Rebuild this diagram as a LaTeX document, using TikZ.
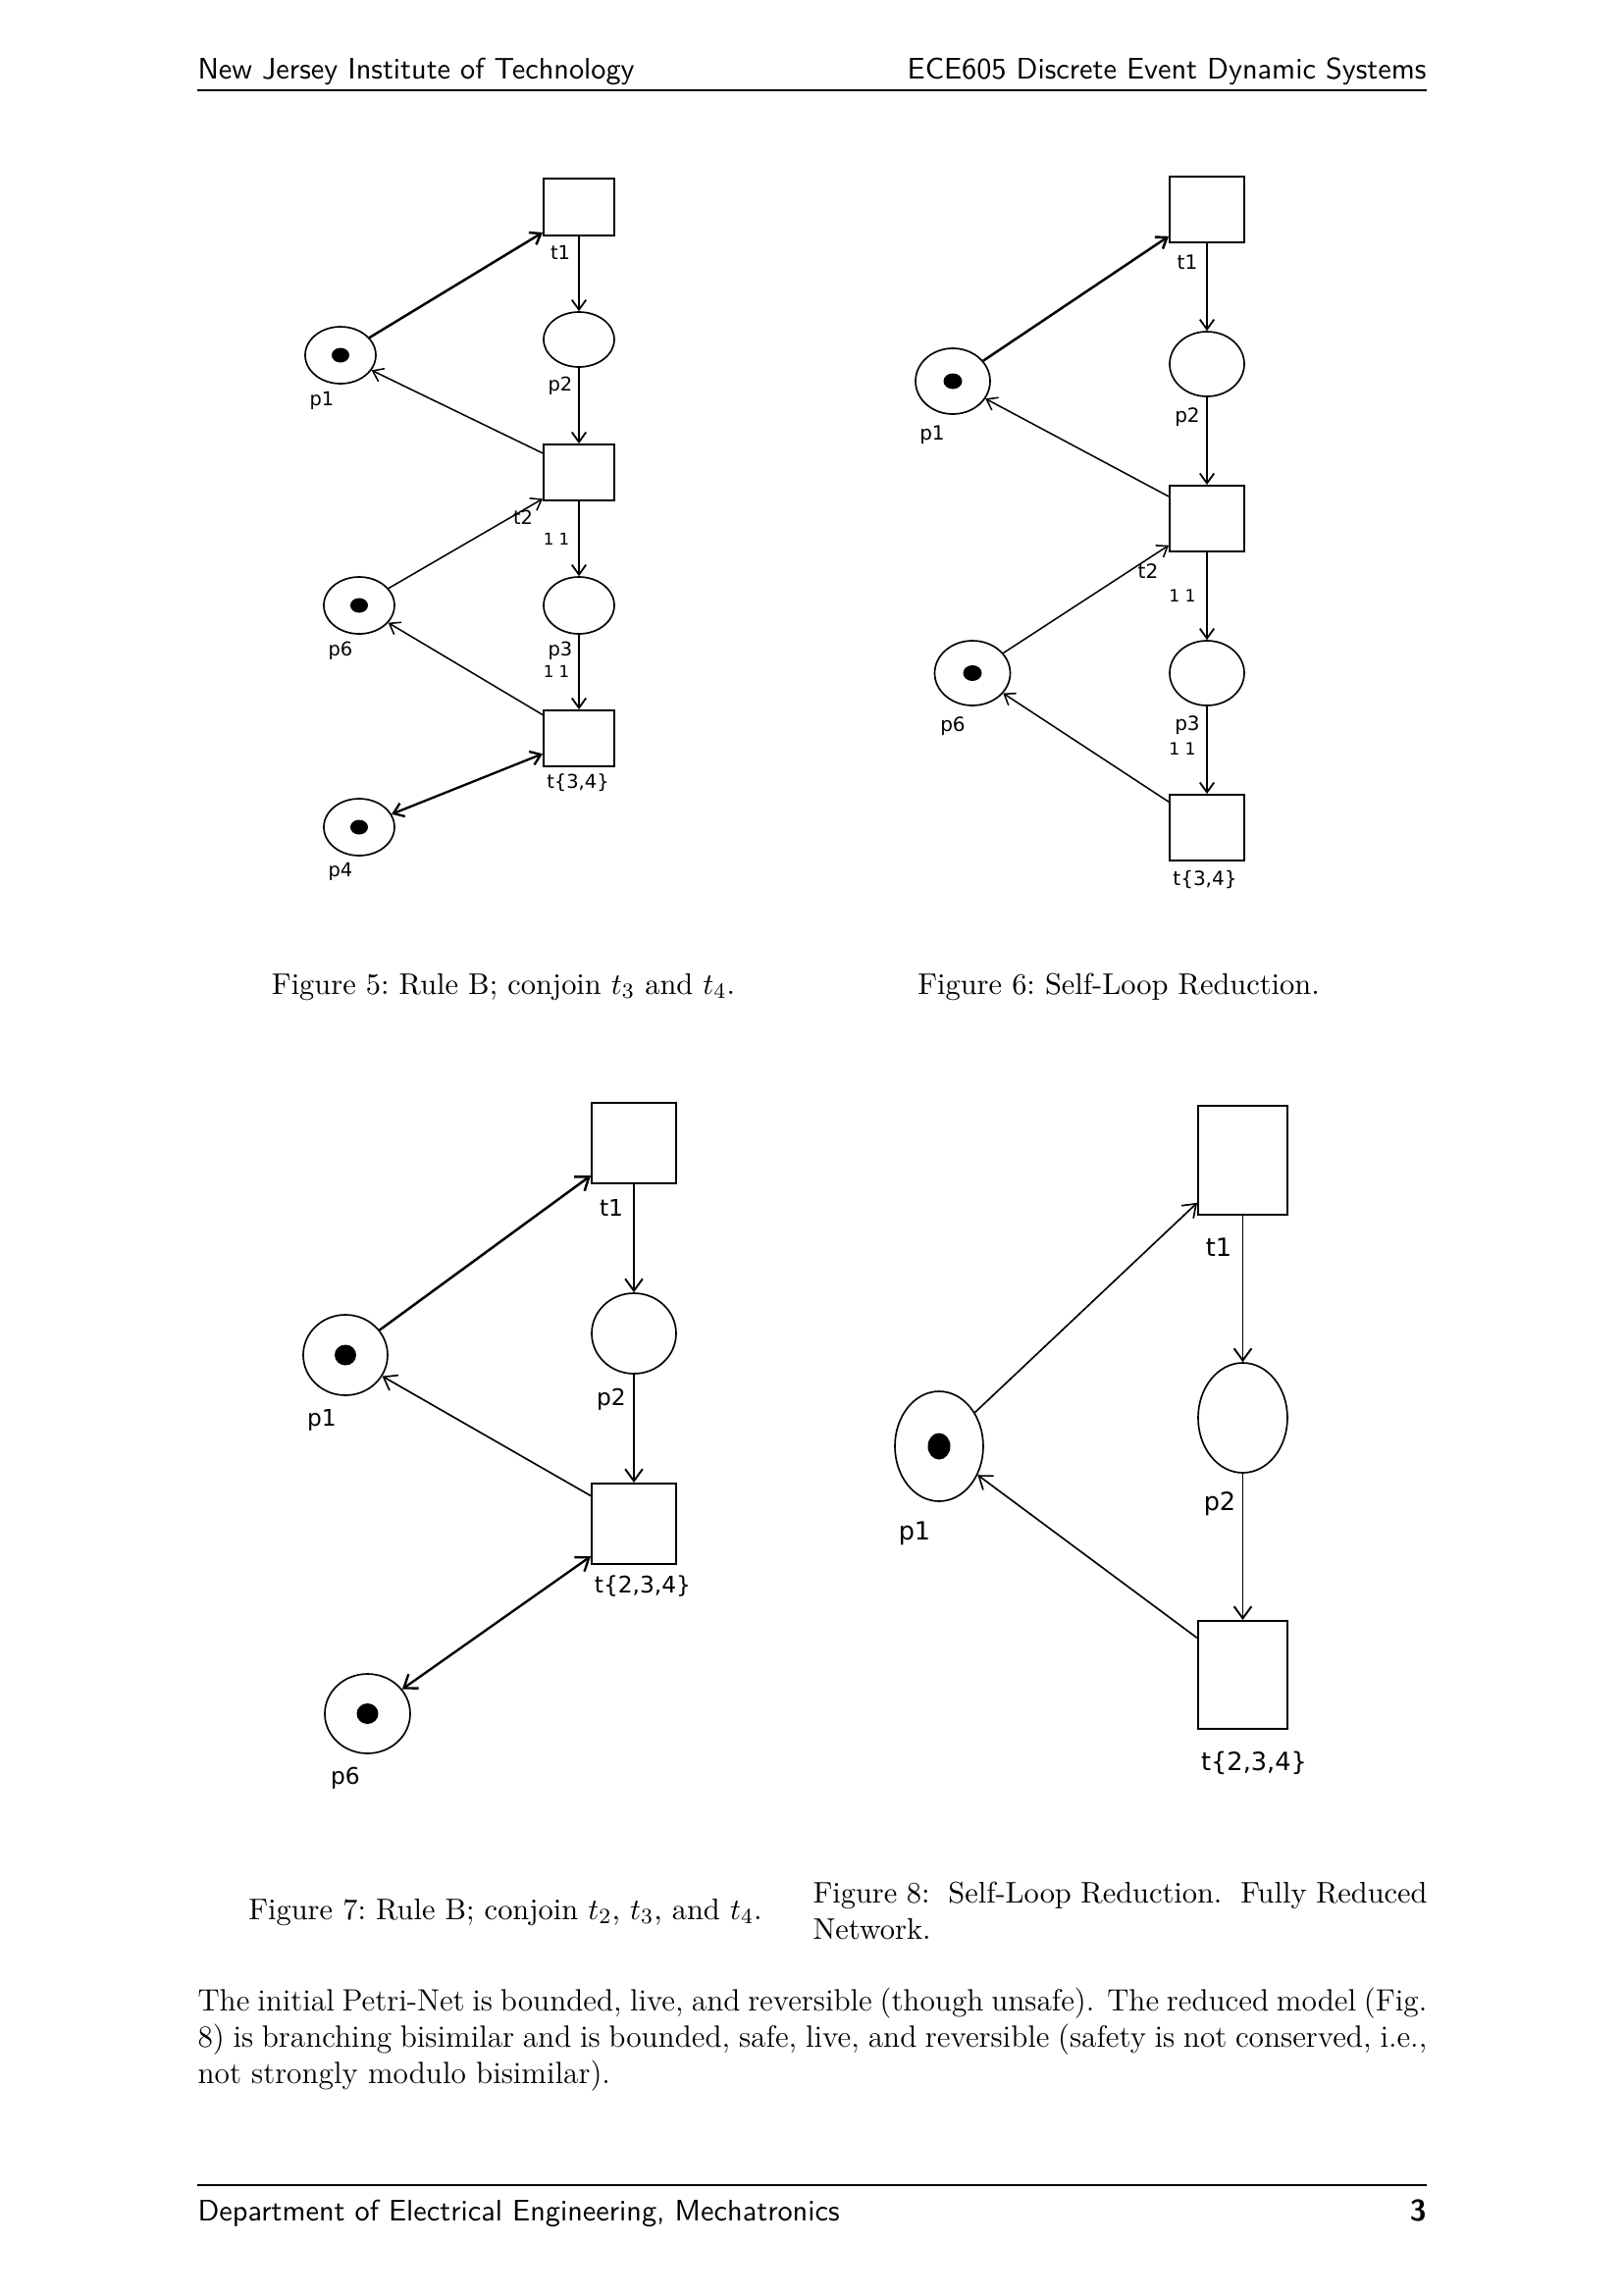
\documentclass[tikz,border=0pt]{standalone}
\usepackage{fontspec}
\usetikzlibrary{arrows.meta,shapes.geometric}
\newfontfamily\netfont{DejaVu Sans}
\begin{document}
\begin{tikzpicture}[x=0.36pt,y=-0.36pt,
  sz/.style 2 args={minimum width=#1*0.36pt, minimum height=#2*0.36pt},
  place/.style={draw, ellipse, inner sep=0pt, line width=0.6pt},
  trans/.style={draw, rectangle, inner sep=0pt, line width=0.7pt},
  token/.style={fill=black, ellipse, inner sep=0pt},
  netarc/.style={-{Straight Barb[length=3.6pt,width=5.2pt]}, line width=0.65pt},
  backarc/.style={netarc, line width=0.55pt},
  bignetarc/.style={-{Straight Barb[length=4.4pt,width=6.4pt]}, line width=0.7pt},
  bigbackarc/.style={bignetarc, line width=0.6pt},
  heavyarc/.style={netarc, line width=0.9pt},
  twoway/.style={{Straight Barb[length=3.6pt,width=5.2pt]}-{Straight Barb[length=3.6pt,width=5.2pt]}, line width=0.85pt},
  bigtwoway/.style={{Straight Barb[length=4.4pt,width=6.4pt]}-{Straight Barb[length=4.4pt,width=6.4pt]}, line width=0.85pt},
  lbl/.style={inner sep=0pt, font=\netfont\fontsize{#1}{#1}\selectfont},
  lbl/.default=7,
  pagetext/.style={inner sep=0pt, font=\sffamily\fontsize{10.9}{13}\selectfont},
  figcap/.style={inner sep=0pt, font=\fontsize{10.95}{13.6}\selectfont\frenchspacing},
  bodytext/.style={inner sep=0pt, font=\fontsize{11.3}{13.6}\selectfont},
]
\useasboundingbox (0,0) rectangle (1654,2339);

% running head and foot
\node[pagetext, anchor=base west] (headL) at (201,80) {New Jersey Institute of Technology};
\node[pagetext, anchor=base east] (headR) at (1454,80) {ECE605 Discrete Event Dynamic Systems};
\coordinate (hruleL) at (201,92);
\coordinate (hruleR) at (1454,92);
\draw[line width=0.4pt] (hruleL) -- (hruleR);
\coordinate (fruleL) at (201,2227);
\coordinate (fruleR) at (1454,2227);
\draw[line width=0.4pt] (fruleL) -- (fruleR);
\node[pagetext, anchor=base west] (footL) at (201,2263) {Department of Electrical Engineering, Mechatronics};
\node[pagetext, anchor=base east, font=\sffamily\bfseries\fontsize{10.9}{13}\selectfont] (footR) at (1454,2263) {3};

% ---------- net: t3 and t4 conjoined ----------
\node[trans, sz={72}{58}] (a-t1) at (590,211) {};
\node[place, sz={72}{56}] (a-p2) at (590,346) {};
\node[place, sz={72}{58}] (a-p1) at (347,362) {};
\node[trans, sz={72}{57}] (a-t2) at (590,481.5) {};
\node[place, sz={72}{58}] (a-p6) at (366,617) {};
\node[place, sz={72}{58}] (a-p3) at (590,617) {};
\node[trans, sz={72}{57}] (a-t34) at (590,752.5) {};
\node[place, sz={72}{58}] (a-p4) at (366,843) {};
\node[token, sz={18}{15}] (a-k1) at (a-p1) {};
\node[token, sz={18}{15}] (a-k6) at (a-p6) {};
\node[token, sz={18}{15}] (a-k4) at (a-p4) {};
\draw[netarc] (a-t1) -- (a-p2);
\draw[netarc] (a-p2) -- (a-t2);
\draw[netarc] (a-t2) -- (a-p3);
\draw[netarc] (a-p3) -- (a-t34);
\draw[heavyarc] (a-p1) -- (a-t1.215);
\draw[backarc] (a-t2.152) -- (a-p1);
\draw[backarc] (a-p6) -- (a-t2.216);
\draw[backarc] (a-t34.147) -- (a-p6);
\draw[twoway] (a-p4) -- (a-t34.203);
\node[lbl] (a-lt1) at (571,257) {t1};
\node[lbl] (a-lp2) at (571,393) {p2};
\node[lbl] (a-lp1) at (328,408) {p1};
\node[lbl] (a-lt2) at (533,527) {t2};
\node[lbl=6] (a-w1) at (567,549) {1 1};
\node[lbl] (a-lp6) at (347,663) {p6};
\node[lbl] (a-lp3) at (571,663) {p3};
\node[lbl=6] (a-w2) at (567,684) {1 1};
\node[lbl] (a-lt34) at (589,798) {t\{3,4\}};
\node[lbl] (a-lp4) at (347,888) {p4};
\node[figcap, anchor=base] (capA) at (513,1013) {Figure 5: Rule B; conjoin $t_3$ and $t_4$.};

% ---------- net: self-loop reduction ----------
\node[trans, sz={76}{67}] (b-t1) at (1230,213.5) {};
\node[place, sz={76}{66}] (b-p2) at (1230,371) {};
\node[place, sz={76}{67}] (b-p1) at (971,388.5) {};
\node[trans, sz={76}{67}] (b-t2) at (1230,528.5) {};
\node[place, sz={77}{66}] (b-p6) at (991,686) {};
\node[place, sz={76}{66}] (b-p3) at (1230,686) {};
\node[trans, sz={76}{67}] (b-t34) at (1230,843.5) {};
\node[token, sz={19}{16}] (b-k1) at (b-p1) {};
\node[token, sz={19}{16}] (b-k6) at (b-p6) {};
\draw[netarc] (b-t1) -- (b-p2);
\draw[netarc] (b-p2) -- (b-t2);
\draw[netarc] (b-t2) -- (b-p3);
\draw[netarc] (b-p3) -- (b-t34);
\draw[heavyarc] (b-p1) -- (b-t1.215);
\draw[backarc] (b-t2.150) -- (b-p1);
\draw[backarc] (b-p6) -- (b-t2.215);
\draw[backarc] (b-t34.146.5) -- (b-p6);
\node[lbl=7.2] (b-lt1) at (1210,267) {t1};
\node[lbl=7.2] (b-lp2) at (1210,425) {p2};
\node[lbl=7.2] (b-lp1) at (950,443) {p1};
\node[lbl=7.2] (b-lt2) at (1170,582) {t2};
\node[lbl=6.2] (b-w1) at (1205,607) {1 1};
\node[lbl=7.2] (b-lp6) at (971,740) {p6};
\node[lbl=7.2] (b-lp3) at (1210,739) {p3};
\node[lbl=6.2] (b-w2) at (1205,763) {1 1};
\node[lbl=7.2] (b-lt34) at (1228,897) {t\{3,4\}};
\node[figcap, anchor=base] (capB) at (1140,1013) {Figure 6: Self-Loop Reduction.};

% ---------- net: t2, t3 and t4 conjoined ----------
\node[trans, sz={86}{82}] (c-t1) at (646,1165) {};
\node[place, sz={86}{82}] (c-p2) at (646,1359) {};
\node[place, sz={86}{82}] (c-p1) at (352,1381) {};
\node[trans, sz={86}{82}] (c-t234) at (646,1553) {};
\node[place, sz={87}{81}] (c-p6) at (374.5,1746.5) {};
\node[token, sz={22}{21}] (c-k1) at (c-p1) {};
\node[token, sz={22}{21}] (c-k6) at (c-p6) {};
\draw[bignetarc] (c-t1) -- (c-p2);
\draw[bignetarc] (c-p2) -- (c-t234);
\draw[bignetarc, line width=0.9pt] (c-p1) -- (c-t1.217);
\draw[bigbackarc] (c-t234.147.5) -- (c-p1);
\draw[bigtwoway] (c-p6) -- (c-t234.217);
\node[lbl=8.4] (c-lt1) at (623,1231) {t1};
\node[lbl=8.4] (c-lp2) at (623,1426) {p2};
\node[lbl=8.4] (c-lp1) at (328,1447) {p1};
\node[lbl=8.4] (c-lt234) at (655,1617) {t\{2,3,4\}};
\node[lbl=8.4] (c-lp6) at (352,1812) {p6};
\node[figcap, anchor=base] (capC) at (515,1956) {Figure 7: Rule B; conjoin $t_2$, $t_3$, and $t_4$.};

% ---------- net: fully reduced ----------
\node[trans, sz={91}{111}] (d-t1) at (1266.5,1182.5) {};
\node[place, sz={91}{112}] (d-p2) at (1266.5,1445) {};
\node[place, sz={90}{112}] (d-p1) at (957,1474) {};
\node[trans, sz={91}{110}] (d-t234) at (1266.5,1707) {};
\node[token, sz={23}{27}] (d-k1) at (d-p1) {};
\draw[bignetarc] (d-t1) -- (d-p2);
\draw[bignetarc] (d-p2) -- (d-t234);
\draw[bigbackarc] (d-p1) -- (d-t1.223);
\draw[bigbackarc] (d-t234.141.5) -- (d-p1);
\node[lbl=9.2] (d-lt1) at (1242,1271) {t1};
\node[lbl=9.2] (d-lp2) at (1243,1533) {p2};
\node[lbl=9.2] (d-lp1) at (932,1563) {p1};
\node[lbl=9.2] (d-lt234) at (1278,1797) {t\{2,3,4\}};
\node[figcap, anchor=base west] (capD1) at (828,1939) {\makebox[225.4pt][s]{Figure 8: \ Self-Loop Reduction. \ Fully Reduced}};
\node[figcap, anchor=base west] (capD2) at (828,1976) {Network.};

% ---------- closing paragraph ----------
\node[bodytext, anchor=base west] (par1) at (201,2049) {\makebox[451pt][s]{The initial Petri-Net is bounded, live, and reversible (though unsafe). The reduced model (Fig.}};
\node[bodytext, anchor=base west] (par2) at (201,2086) {\makebox[451pt][s]{8) is branching bisimilar and is bounded, safe, live, and reversible (safety is not conserved, i.e.,}};
\node[bodytext, anchor=base west] (par3) at (201,2123) {not strongly modulo bisimilar).};
\end{tikzpicture}
\end{document}
